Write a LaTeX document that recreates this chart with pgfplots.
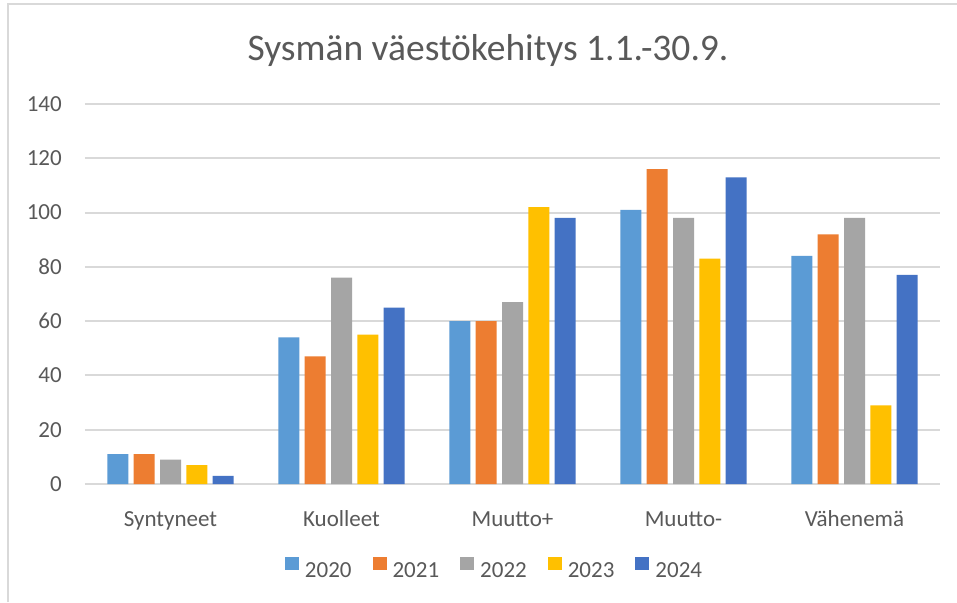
\documentclass[border=0pt]{standalone}
\usepackage{fontspec}
\setmainfont{Carlito}
\usepackage{pgfplots}
\pgfplotsset{compat=1.18}
\definecolor{c20}{HTML}{5B9BD5}
\definecolor{c21}{HTML}{ED7D31}
\definecolor{c22}{HTML}{A5A5A5}
\definecolor{c23}{HTML}{FFC000}
\definecolor{c24}{HTML}{4472C4}
\definecolor{txt}{HTML}{595959}
\definecolor{grd}{HTML}{D9D9D9}
\begin{document}
\begin{tikzpicture}[x=1pt,y=1pt]
\useasboundingbox (0,0) rectangle (957,602);
\fill[white] (0,0) rectangle (957,602);
\draw[grd, line width=1.5pt] (8,0) -- (8,598) -- (957,598);
\node[text=txt, font=\fontsize{37.5}{42}\selectfont] at (488,551) {Sysmän väestökehitys 1.1.-30.9.};
\begin{axis}[
  at={(85pt,118pt)}, anchor=south west,
  scale only axis, width=855pt, height=380pt,
  xmin=-0.5, xmax=4.5, ymin=0, ymax=140,
  axis line style={draw=none}, major tick length=0pt,
  xtick={0,...,4},
  xticklabels={Syntyneet,Kuolleet,Muutto+,Muutto-,Vähenemä},
  ytick={0,20,...,140},
  ymajorgrids, grid style={grd, line width=2pt},
  ticklabel style={font=\fontsize{23}{27}\selectfont, text=txt},
  /pgf/number format/assume math mode=true,
  xticklabel style={anchor=base, yshift=-42pt, inner sep=0pt},
  yticklabel style={anchor=east, inner sep=0pt, xshift=-23pt},
  ybar=5.3pt, bar width=21pt,
  legend columns=-1,
  legend style={at={(0.4778,-0.221)}, anchor=center, draw=none, fill=none,
    font=\fontsize{23}{27}\selectfont, text=txt,
    nodes={inner sep=0pt},
    /tikz/every odd column/.append style={column sep=6pt},
    /tikz/every even column/.append style={column sep=21pt}},
  legend image code/.code={\fill[#1,draw=none] (0pt,0.5pt) rectangle (14pt,14pt);},
]
\addplot[fill=c20, draw=none] coordinates {(0,11) (1,54) (2,60) (3,101) (4,84)};
\addplot[fill=c21, draw=none] coordinates {(0,11) (1,47) (2,60) (3,116) (4,92)};
\addplot[fill=c22, draw=none] coordinates {(0,9) (1,76) (2,67) (3,98) (4,98)};
\addplot[fill=c23, draw=none] coordinates {(0,7) (1,55) (2,102) (3,83) (4,29)};
\addplot[fill=c24, draw=none] coordinates {(0,3) (1,65) (2,98) (3,113) (4,77)};
\legend{2020,2021,2022,2023,2024}
\end{axis}
\end{tikzpicture}
\end{document}
